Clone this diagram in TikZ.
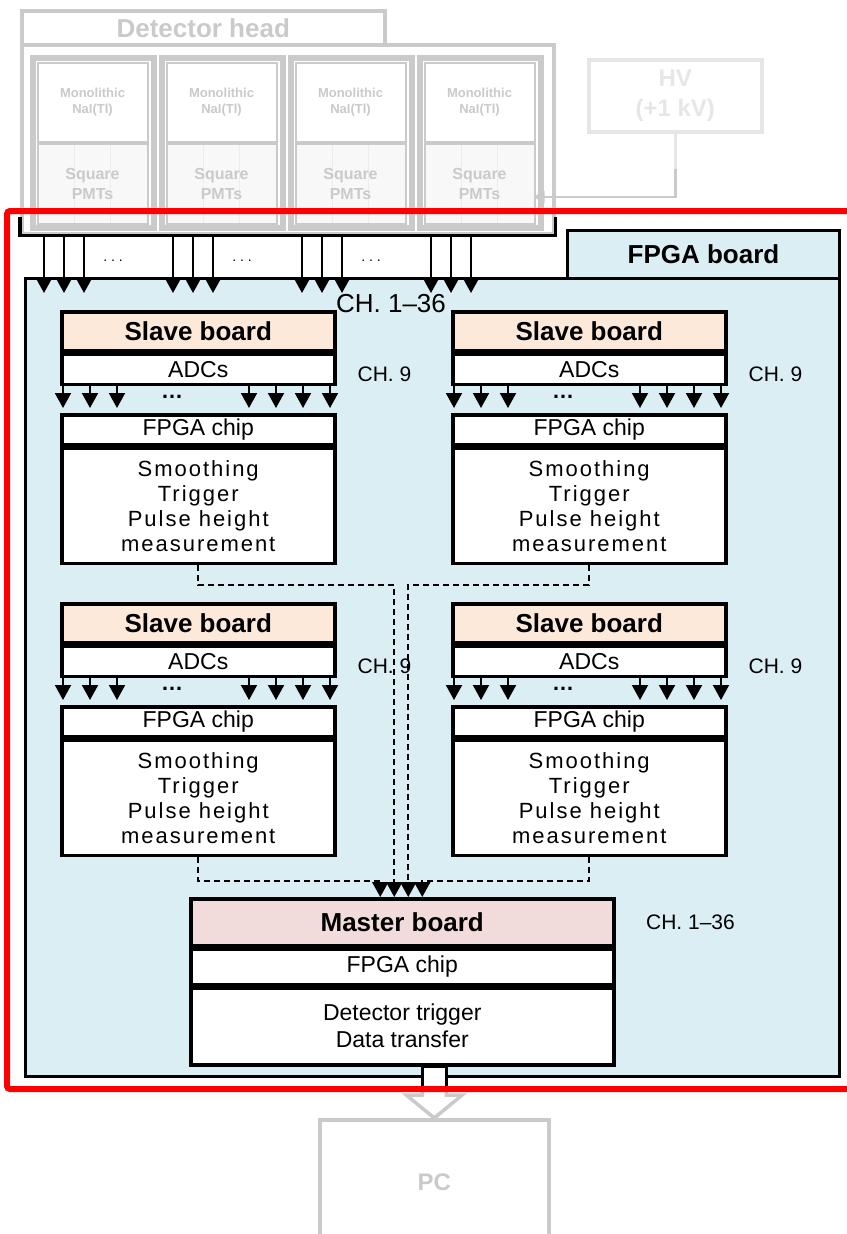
\documentclass[tikz,border=0pt]{standalone}
\usepackage{fontspec}
\setmainfont{Liberation Sans}
\newfontfamily\wideletters[LetterSpace=9]{Liberation Sans}
\usepackage{tikz}
\usetikzlibrary{arrows.meta,positioning,calc}
\definecolor{boardblue}{HTML}{DAEEF3}
\definecolor{slavefill}{HTML}{FDE9D9}
\definecolor{masterfill}{HTML}{F2DCDB}
\definecolor{ghost}{HTML}{CACACA}
\definecolor{faint}{HTML}{E6E6E6}
\definecolor{pmtfill}{HTML}{F8F8F8}
\definecolor{pmtline}{HTML}{EDEDED}
\newcommand{\setfs}[2]{\fontsize{#1}{#2}\selectfont}

\begin{document}
\begin{tikzpicture}[x=1pt, y=-1pt,
  blk/.style={draw, line width=3.5pt, inner sep=0pt, anchor=north west,
              align=center},
  sbhead/.style={blk, fill=slavefill, minimum width=273pt,
                 minimum height=39pt, font=\bfseries\setfs{26}{30}},
  row/.style={blk, fill=white, minimum height=30pt, font=\setfs{23}{26}},
  func/.style={blk, fill=white, font=\wideletters\setfs{22}{25}},
  ghostbox/.style={draw=ghost, line width=3.5pt, inner sep=0pt,
                   anchor=north west, align=center, text=ghost},
  pmt/.style={ghostbox, line width=2pt, fill=pmtfill,
    path picture={\foreach \f in {0.333,0.667}
      \draw[pmtline, line width=1pt]
        ($(path picture bounding box.south west)!\f!(path picture bounding box.south east)$)
        -- ($(path picture bounding box.north west)!\f!(path picture bounding box.north east)$);}},
  lab/.style={font=\setfs{21}{24}},
  link/.style={line width=2pt, dash pattern=on 6pt off 4pt},
  >={Triangle[width=16pt,length=15pt]}]
\useasboundingbox (0,0) rectangle (846,1234);

% detector head (greyed out)
\node[ghostbox, minimum width=363pt, minimum height=34pt,
      font=\bfseries\setfs{26}{30}] (dt) at (20,9) {Detector head};
\node[ghostbox, minimum width=532pt, minimum height=189pt] (dh) at (20,43) {};
\foreach \k/\x in {1/30,2/159,3/288,4/417} {
  \node[ghostbox, minimum width=123pt, minimum height=172pt] (d\k) at (\x,55) {};
  \draw[ghost, line width=2pt] ($(d\k.north west)+(4.5,4.5)$)
    rectangle ($(d\k.south east)+(-4.5,-4.5)$);
  \node[ghostbox, line width=2pt, fill=white, minimum width=110pt,
        minimum height=79pt, font=\bfseries\setfs{13}{16}] (n\k)
        at (\x+6.5,62) {Monolithic\\NaI(Tl)};
  \node[pmt, minimum width=110pt, minimum height=80pt,
        font=\bfseries\setfs{16}{20}] (p\k) at (n\k.south west) {Square\\PMTs};
}
\draw[line width=3.5pt] ($(dh.south west)+(0,-19)$) -- (dh.south west)
  -- (dh.south east) -- ++(0,-19);

% high voltage supply
\node[ghostbox, draw=faint, text=faint, minimum width=173pt, minimum height=72pt,
      font=\bfseries\setfs{24}{30}] (hv) at (587,58) {HV\\(+1 kV)};
\draw[ghost, line width=2.5pt, -{Triangle[width=12pt,length=11pt]}]
  (hv.south) |- ($(p4.east)+(-2,13)$);
\draw[faint, line width=2.5pt] (hv.south) -- ++(0,35);

% FPGA board
\node[blk, line width=3pt, fill=boardblue, minimum width=814pt,
      minimum height=798pt] (fb) at (24,277) {};
\node[blk, line width=3pt, fill=boardblue, minimum width=272pt,
      minimum height=48pt, font=\bfseries\setfs{26}{30}] (fbt) at (566,229) {FPGA board};

\foreach \k in {1,...,4}
  \foreach \d in {14,34,54}
    \draw[->, line width=2pt] ($(d\k.west |- dh.south)+(\d,0)$)
      -- ($(d\k.west |- fb.north)+(\d,16)$);
\foreach \k in {1,2,3}
  \node[font=\setfs{14}{14}] (g\k) at ($(d\k.west |- dh.south)+(83,25)$) {.\ .\ .};
\node[font=\setfs{26}{28}] (chall) at (391,304) {CH. 1\textendash36};

% slave boards
\foreach \n/\x/\y in {1/60/310, 2/451/310, 3/60/602, 4/451/602} {
  \node[sbhead] (sh\n) at (\x,\y) {Slave board};
  \node[row, minimum width=273pt] (sa\n) at (sh\n.south west) {ADCs};
  \node[row, minimum width=273pt] (sc\n) at (\x,\y+103) {FPGA chip};
  \node[func, minimum width=273pt, minimum height=115pt] (sf\n)
    at (sc\n.south west) {Smoothing\\Trigger\\Pulse height\\measurement};
  \node[lab] (ch\n) at ($(sa\n.east)+(48,5)$) {CH. 9};
  \foreach \d in {3,30,57,189,216,243,270}
    \draw[->, line width=2pt] ($(sa\n.south west)+(\d,0)$)
      -- ($(sc\n.north west)+(\d,-5)$);
  \node[font=\bfseries\setfs{22}{22}, anchor=base] (sd\n)
    at ($(sa\n.south west)+(112,12)$) {\ldots};
}

% master board
\node[blk, fill=masterfill, minimum width=423pt, minimum height=47pt,
      font=\bfseries\setfs{26}{30}] (mh) at (189,897) {Master board};
\node[row, minimum width=423pt, minimum height=35pt] (mc) at (mh.south west) {FPGA chip};
\node[blk, fill=white, minimum width=423pt, minimum height=77pt,
      font=\setfs{23}{27}] (mf) at (mc.south west) {Detector trigger\\Data transfer};
\node[lab] (mch) at ($(mh.east)+(75,0)$) {CH. 1\textendash36};

\draw[link, ->] (sf1.south) -- ++(0,20) -| ($(mh.north)+(-8,0)$);
\draw[link, ->] (sf2.south) -- ++(0,20) -| ($(mh.north)+(6,0)$);
\draw[link, ->] (sf3.south) -- ++(0,24) -| ($(mh.north)+(-22,0)$);
\draw[link, ->] (sf4.south) -- ++(0,24) -| ($(mh.north)+(20,0)$);

% PC
\node[ghostbox, minimum width=229pt, minimum height=124pt,
      font=\bfseries\setfs{24}{28}] (pc) at (318,1118) {PC};
\draw[line width=3.5pt, fill=white] ($(mf.south -| pc.north)+(-12,0)$)
  rectangle ($(pc.north)+(12,-27)$);
\draw[ghost, line width=3.5pt, fill=white] ($(pc.north)+(-12,-27)$)
  -- ($(pc.north)+(-12,-23)$) -- ($(pc.north)+(-28,-23)$) -- (pc.north)
  -- ($(pc.north)+(28,-23)$) -- ($(pc.north)+(12,-23)$) -- ($(pc.north)+(12,-27)$);

% highlighted region
\draw[red, line width=6pt, rounded corners=3pt] (7,211) rectangle (870,1089);
\end{tikzpicture}
\end{document}
